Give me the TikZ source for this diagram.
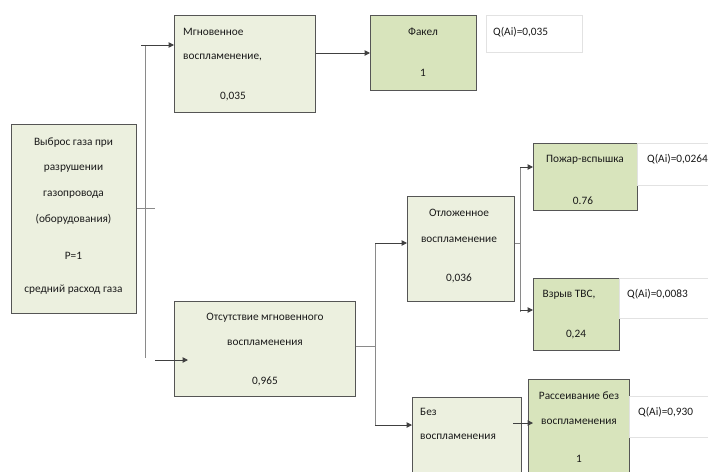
\documentclass[tikz,border=0pt]{standalone}
\usepackage{fontspec}
\setmainfont{Carlito}
\usetikzlibrary{arrows.meta}
\definecolor{lightfill}{HTML}{ECF0DF}
\definecolor{darkfill}{HTML}{D8E4BC}
\definecolor{boxline}{HTML}{555555}
\definecolor{conn}{HTML}{8A8A8A}
\definecolor{txt}{HTML}{1A1A1A}
\definecolor{lblline}{HTML}{E2E2E2}
\begin{document}
\begin{tikzpicture}[x=1pt,y=-1pt,
  font=\fontsize{11.3}{13}\selectfont, text=txt,
  box/.style={draw=boxline, line width=1pt, anchor=north west, inner sep=0pt},
  lbox/.style={box, fill=lightfill},
  dbox/.style={box, fill=darkfill},
  qbox/.style={draw=lblline, line width=0.6pt, fill=white, anchor=north west, inner sep=0pt},
  t/.style={anchor=mid, inner sep=0pt},
  tl/.style={anchor=mid west, inner sep=0pt},
  wire/.style={draw=conn, line width=1pt},
  arr/.style={draw=black!75, line width=1pt, -{Triangle[length=5.5pt,width=5.5pt]}}
]
\useasboundingbox (0,0) rectangle (708,471);
\clip (0,0) rectangle (708,471);

% ---- boxes ----
\node[lbox, minimum width=125pt, minimum height=189pt] (src) at (11,124) {};
\node[lbox, minimum width=141pt, minimum height=97pt] (mgn) at (174,15) {};
\node[dbox, minimum width=106pt, minimum height=75pt] (fak) at (370,15) {};
\node[qbox, minimum width=96pt, minimum height=37pt] (qfak) at (486,15) {};
\node[lbox, minimum width=181pt, minimum height=95pt] (ots) at (174,301) {};
\node[lbox, minimum width=107pt, minimum height=105pt] (otl) at (407,196) {};
\node[dbox, minimum width=104pt, minimum height=67pt] (poz) at (533,143) {};
\node[qbox, minimum width=75pt, minimum height=42pt] (qpoz) at (637,143) {};
\node[dbox, minimum width=86pt, minimum height=72pt] (vzr) at (533,278) {};
\node[qbox, minimum width=92pt, minimum height=40pt] (qvzr) at (619,278) {};
\node[lbox, minimum width=109pt, minimum height=90pt] (bez) at (412,397) {};
\node[dbox, minimum width=101pt, minimum height=110pt] (ras) at (528,379) {};
\node[qbox, minimum width=85pt, minimum height=41pt] (qras) at (629,396) {};

% ---- texts ----
\node[t] (s1) at (73.5,143) {Выброс газа при};
\node[t] (s2) at (73.5,168) {разрушении};
\node[t] (s3) at (73.5,194) {газопровода};
\node[t] (s4) at (73.5,220) {(оборудования)};
\node[t] (s5) at (73.5,257) {P=1};
\node[t] (s6) at (73.5,290) {средний расход газа};

\node[tl] (m1) at (183,33) {Мгновенное};
\node[tl] (m2) at (183,57) {воспламенение,};
\node[t] (m3) at (233,97) {0,035};

\node[t] (f1) at (423,33) {Факел};
\node[t] (f2) at (423,74) {1};
\node[tl] (qf) at (493,33) {Q(Ai)=0,035};

\node[t] (o1) at (265,318) {Отсутствие мгновенного};
\node[t] (o2) at (265,343) {воспламенения};
\node[t] (o3) at (265,382) {0,965};

\node[t] (l1) at (459,214) {Отложенное};
\node[t] (l2) at (459,240) {воспламенение};
\node[t] (l3) at (459,279) {0,036};

\node[t] (p1) at (585,160) {Пожар-вспышка};
\node[t] (p2) at (583,202) {0.76};
\node[tl] (qp) at (647,160) {Q(Ai)=0,0264};

\node[t] (v1) at (569,295) {Взрыв ТВС,};
\node[t] (v2) at (576,335) {0,24};
\node[tl] (qv) at (627,295) {Q(Ai)=0,0083};

\node[tl] (b1) at (420,413) {Без};
\node[tl] (b2) at (420,437) {воспламенения};

\node[t] (r1) at (579,397) {Рассеивание без};
\node[t] (r2) at (579,422) {воспламенения};
\node[t] (r3) at (579,460) {1};
\node[tl] (qr) at (638,413) {Q(Ai)=0,930};

% ---- junction coordinates ----
\coordinate (jt) at (145,45);
\coordinate (jtl) at (141,45);
\coordinate (jb) at (145,358);
\coordinate (js) at (155,208);
\coordinate (jbs) at (155,360);
\coordinate (jbe) at (188,360);
\coordinate (k) at (375,346);
\coordinate (kt) at (375,243);
\coordinate (kb) at (375,425);
\coordinate (n) at (520,243);
\coordinate (nt) at (520,167);
\coordinate (nb) at (520,312);
\coordinate (nbv) at (520,310);
\coordinate (bz) at (513,423);

% ---- connectors ----
\draw[wire] (src.east |- js) -- (js);
\draw[wire] (jt) -- (jb);
\draw[arr] (jtl) -- (mgn.west |- jtl);
\draw[arr] (jbs) -- (jbe);
\draw[arr] (mgn.east |- fak.west) -- (fak.west);

\draw[wire] (ots.east |- k) -- (k);
\draw[wire] (kt) -- (kb);
\draw[arr] (kt) -- (otl.west |- kt);
\draw[arr] (kb) -- (bez.west |- kb);

\draw[wire] (otl.east |- n) -- (n);
\draw[wire] (nt) -- (nb);
\draw[arr] (nt) -- (poz.west |- nt);
\draw[arr] (nbv) -- (vzr.west |- nbv);

\draw[arr] (bz) -- ([xshift=5pt]ras.west |- bz);
\end{tikzpicture}
\end{document}
